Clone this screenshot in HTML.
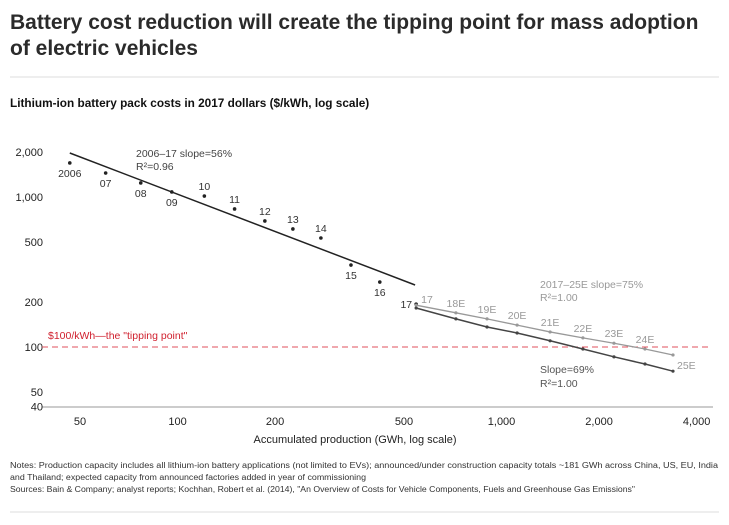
<!DOCTYPE html>
<html><head><meta charset="utf-8"><style>
html,body{margin:0;padding:0;background:#fff;}
svg{display:block;font-family:"Liberation Sans",Arial,sans-serif;}
</style></head><body>
<svg id="chart" width="729" height="525" viewBox="0 0 729 525">
<text x="10" y="29" font-size="21" font-weight="bold" fill="#2b2b2b">Battery cost reduction will create the tipping point for mass adoption</text>
<text x="10" y="55" font-size="21" font-weight="bold" fill="#2b2b2b">of electric vehicles</text>
<line x1="10" y1="77" x2="719" y2="77" stroke="#ddd"/>
<text x="10" y="107" font-size="11.8" font-weight="bold" fill="#111">Lithium-ion battery pack costs in 2017 dollars ($/kWh, log scale)</text>
<g id="axes"></g>
<g id="marks"></g>
<text x="355" y="443" font-size="11" text-anchor="middle" fill="#222">Accumulated production (GWh, log scale)</text>
<text x="136" y="157" font-size="10.5" fill="#444">2006–17 slope=56%</text>
<text x="136" y="170" font-size="10.5" fill="#444">R²=0.96</text>
<text x="540" y="288" font-size="10.5" fill="#999">2017–25E slope=75%</text>
<text x="540" y="301" font-size="10.5" fill="#999">R²=1.00</text>
<text x="540" y="373" font-size="10.5" fill="#555">Slope=69%</text>
<text x="540" y="387" font-size="10.5" fill="#555">R²=1.00</text>
<text x="48" y="339" font-size="10.5" fill="#d0202e">$100/kWh—the "tipping point"</text>
<text x="10" y="468" font-size="8" fill="#333" textLength="708" lengthAdjust="spacingAndGlyphs">Notes: Production capacity includes all lithium-ion battery applications (not limited to EVs); announced/under construction capacity totals ~181 GWh across China, US, EU, India</text>
<text x="10" y="480" font-size="8" fill="#333" textLength="356" lengthAdjust="spacingAndGlyphs">and Thailand; expected capacity from announced factories added in year of commissioning</text>
<text x="10" y="492" font-size="8" fill="#333" textLength="625" lengthAdjust="spacingAndGlyphs">Sources: Bain &amp; Company; analyst reports; Kochhan, Robert et al. (2014), "An Overview of Costs for Vehicle Components, Fuels and Greenhouse Gas Emissions"</text>
<line x1="10" y1="512" x2="719" y2="512" stroke="#ddd"/>
</svg>
<script>
const xTicks=[50,100,200,500,1000,2000,4000];
const xTickLabels=["50","100","200","500","1,000","2,000","4,000"];
const yTicks=[2000,1000,500,200,100,50,40];
const yTickLabels=["2,000","1,000","500","200","100","50","40"];
const histLabels=["2006","07","08","09","10","11","12","13","14","15","16","17"];
const histX=[46.5,60,77,96,121,150,186,227,277,343,421,545];
const histY=[1686,1445,1240,1080,1015,832,692,612,533,352,271,193];
const histLabelPos=["below","below","below","below","above","above","above","above","above","below","below","left"];
const trendX=[46.5,541];
const trendY=[1965,259];
const projLabels=["17","18E","19E","20E","21E","22E","23E","24E","25E"];
const projX=[545,723,902,1117,1412,1783,2223,2772,3382];
const projLight=[190,169,154,140,126,115,106,97,88.5];
const projDark=[182,154,136,124,110,97,86,77,69];
const tippingPoint=100;

const NS="http://www.w3.org/2000/svg";
const xs=v=>80+324*Math.log10(v/50);
const ys=v=>347-150*Math.log10(v/100);
function mk(tag,attrs,parent,txt){const e=document.createElementNS(NS,tag);for(const k in attrs)e.setAttribute(k,attrs[k]);if(txt!==undefined)e.textContent=txt;parent.appendChild(e);return e;}
const axes=document.getElementById('axes'),marks=document.getElementById('marks');

let ax=mk('line',{x1:42,y1:407,x2:713,y2:407,stroke:'#999'},axes);


xTicks.forEach((t,i)=>{
 const e=mk('text',{x:xs(t),y:425,'font-size':11,'text-anchor':'middle',fill:'#222'},axes,xTickLabels[i]);
 
 
});
yTicks.forEach((t,i)=>{
 const e=mk('text',{x:43,y:ys(t)+4,'font-size':11,'text-anchor':'end',fill:'#222'},axes,yTickLabels[i]);
 
 
});
let tp=mk('line',{x1:42,y1:ys(tippingPoint),x2:710,y2:ys(tippingPoint),stroke:'#e0505c','stroke-dasharray':'6,4'},marks);



let tl=mk('line',{x1:xs(trendX[0]),y1:ys(trendY[0]),x2:xs(trendX[1]),y2:ys(trendY[1]),stroke:'#222','stroke-width':1.5},marks);



histX.forEach((v,i)=>{
 const cx=xs(v),cy=ys(histY[i]);
 const c=mk('circle',{cx:cx,cy:cy,r:1.8,fill:'#222'},marks);
 
 
 const p=histLabelPos[i];
 let lx=cx,ly=cy,anc='middle';
 if(p==='below')ly=cy+14;else if(p==='above')ly=cy-6;else{lx=cx-4;ly=cy+4;anc='end';}
 const t=mk('text',{x:lx,y:ly,'font-size':10.5,'text-anchor':anc,fill:'#333'},marks,histLabels[i]);
 
 
});

function series(vals,color,name,w){
 const d=projX.map((x,i)=>(i?'L':'M')+xs(x)+','+ys(vals[i])).join(' ');
 const p=mk('path',{d:d,stroke:color,'stroke-width':w,fill:'none'},marks);
 
 
 projX.forEach((x,i)=>{
  const c=mk('circle',{cx:xs(x),cy:ys(vals[i]),r:1.6,fill:color},marks);
  
  
 });
}
series(projDark,'#444','projection-69','1.5');
series(projLight,'#999','projection-75','1.3');
projX.forEach((x,i)=>{
 let lx=xs(x),ly=ys(projLight[i])-6,anc='middle';
 if(i===0){lx=xs(x)+5;ly=ys(projLight[i])-2;anc='start';}
 if(i===projX.length-1){lx=xs(x)+4;ly=ys(projLight[i])+14;anc='start';}
 const t=mk('text',{x:lx,y:ly,'font-size':10.5,'text-anchor':anc,fill:'#999'},marks,projLabels[i]);
 
 
});
</script>
</body></html>
